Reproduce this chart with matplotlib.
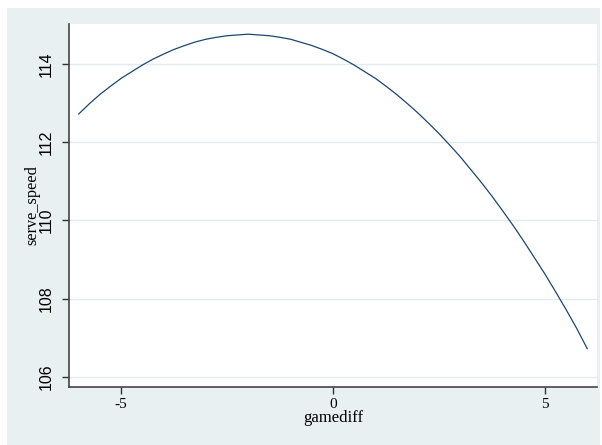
import numpy as np
import matplotlib.pyplot as plt
from matplotlib.patches import Rectangle

# fitted curve
gamediff = [-6.0, -5.75, -5.5, -5.25, -5.0, -4.75, -4.5, -4.25, -4.0, -3.75, -3.5, -3.25,
            -3.0, -2.75, -2.5, -2.25, -2.0, -1.75, -1.5, -1.25, -1.0, -0.75, -0.5, -0.25,
            0.0, 0.25, 0.5, 0.75, 1.0, 1.25, 1.5, 1.75, 2.0, 2.25, 2.5, 2.75,
            3.0, 3.25, 3.5, 3.75, 4.0, 4.25, 4.5, 4.75, 5.0, 5.25, 5.5, 5.75, 6.0]
serve_speed = [112.72, 112.98, 113.22, 113.43, 113.63, 113.80, 113.97, 114.12,
               114.25, 114.37, 114.47, 114.56, 114.63, 114.68, 114.72, 114.74,
               114.76, 114.74, 114.72, 114.68, 114.63, 114.55, 114.47, 114.37,
               114.26, 114.12, 113.97, 113.80, 113.63, 113.43, 113.22, 112.99,
               112.75, 112.49, 112.22, 111.93, 111.63, 111.30, 110.97, 110.62,
               110.25, 109.87, 109.47, 109.05, 108.63, 108.18, 107.72, 107.24, 106.72]
xticks = [-5, 0, 5]
yticks = [106, 108, 110, 112, 114]

W, H = 602, 445
fig = plt.figure(figsize=(W / 100, H / 100), dpi=100, facecolor='white')

# Stata-like graph region
fig.patches.append(Rectangle((7 / W, 0), (600 - 7) / W, (H - 8) / H,
                             transform=fig.transFigure, facecolor='#e9f0f2',
                             edgecolor='none', zorder=-1))

ax = fig.add_axes([69 / W, 58 / H, (597 - 69) / W, (421 - 58) / H])
ax.set_zorder(1)
ax.set_facecolor('white')
ax.plot(gamediff, serve_speed, color='#1a476f', lw=0.9)

ax.set_xlim(-6.23, 6.23)
ax.set_ylim(105.74, 115.02)
ax.set_xticks(xticks)
ax.set_yticks(yticks)
ax.set_xticklabels([str(t) for t in xticks], family='Liberation Serif', fontsize=11)
ax.set_yticklabels([str(t) for t in yticks], family='Liberation Sans', fontsize=11.5,
                   rotation=90, va='center')
ax.tick_params(axis='both', length=5, width=1, color='#333333', direction='out')
ax.tick_params(axis='x', pad=3)
ax.tick_params(axis='y', pad=6)
ax.yaxis.grid(True, color='#e1ecef', lw=1)
ax.set_axisbelow(True)

for s in ['top', 'right']:
    ax.spines[s].set_visible(False)
for s in ['left', 'bottom']:
    ax.spines[s].set_color('#444444')
    ax.spines[s].set_linewidth(1.2)

ax.set_xlabel('gamediff', family='Liberation Serif', fontsize=12, labelpad=-1)
ax.set_ylabel('serve_speed', family='Liberation Serif', fontsize=11.7, labelpad=-1)

fig.savefig('out.png', dpi=100, facecolor='white')
